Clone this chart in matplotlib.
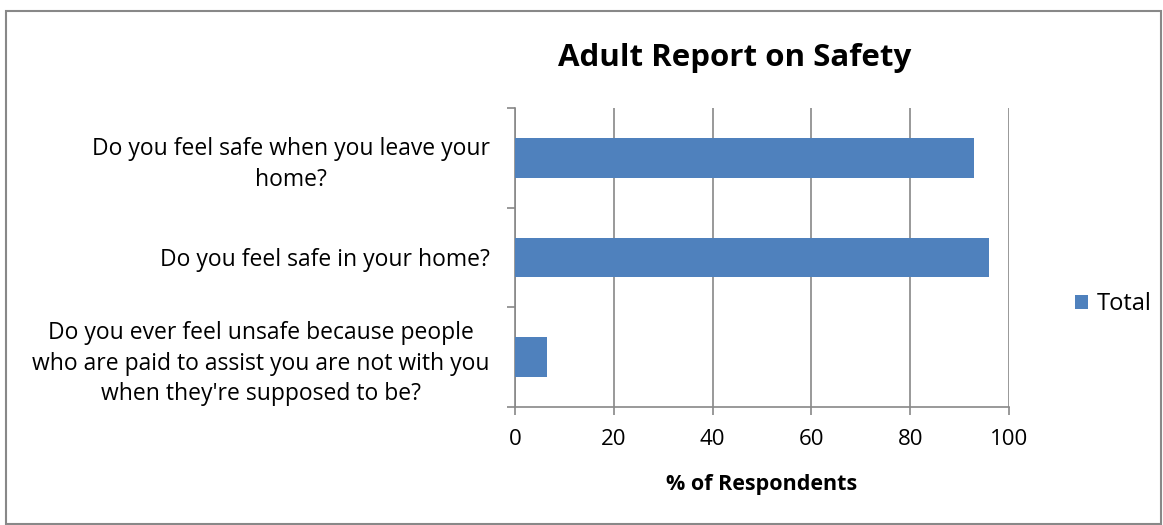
import matplotlib.pyplot as plt
from matplotlib.patches import Rectangle
from matplotlib.ticker import FixedLocator

plt.rcParams['font.family'] = ['Open Sans', 'DejaVu Sans']

questions = [
    "Do you feel safe when you leave your\nhome?",
    "Do you feel safe in your home?",
    "Do you ever feel unsafe because people\nwho are paid to assist you are not with you\nwhen they're supposed to be?",
]
totals = [93.0, 96.0, 6.4]
xticks = [0, 20, 40, 60, 80, 100]

bar_color = "#4F81BD"
axis_gray = "#888888"

fig = plt.figure(figsize=(11.63, 5.25), dpi=100)
ax = fig.add_axes([515 / 1163, 1 - 407 / 525, 494 / 1163, 299 / 525])

ypos = list(range(len(questions)))[::-1]
ax.barh(ypos, totals, height=0.4, color=bar_color, label="Total", zorder=3)

ax.set_xlim(0, 100)
ax.set_ylim(-0.5, len(questions) - 0.5)
ax.set_xticks(xticks)
ax.set_xticklabels([str(t) for t in xticks], fontsize=16)
ax.set_yticks(ypos)
ax.set_yticklabels(questions, fontsize=16.5, linespacing=1.38)
ax.yaxis.set_minor_locator(FixedLocator([-0.5, 0.5, 1.5, 2.5]))
ax.tick_params(axis='y', which='major', length=0, pad=18)
ax.tick_params(axis='y', which='minor', length=6, color=axis_gray, width=1.2)
ax.tick_params(axis='x', length=6, color=axis_gray, width=1.2, pad=10)
for lbl in ax.get_yticklabels():
    lbl.set_horizontalalignment('right')
    lbl.set_multialignment('center')

ax.grid(axis='x', color=axis_gray, linewidth=1.2, zorder=0)
for side in ('top', 'right'):
    ax.spines[side].set_visible(False)
for side in ('left', 'bottom'):
    ax.spines[side].set_color(axis_gray)
    ax.spines[side].set_linewidth(1.2)

ax.set_xlabel("% of Respondents", fontsize=15.5, fontweight='bold', labelpad=17)
fig.text(735 / 1163, 1 - 58 / 525, "Adult Report on Safety", fontsize=22.5,
         fontweight='bold', ha='center', va='center')

ax.legend(loc='center left', bbox_to_anchor=(1.09, 0.344), frameon=False,
          fontsize=17, handlelength=0.55, handleheight=0.55, handletextpad=0.4)

# outer chart frame
fig.patches.append(Rectangle((6 / 1163, 1 / 525), 1155 / 1163, 513 / 525,
                             transform=fig.transFigure, fill=False,
                             edgecolor=axis_gray, linewidth=1.5))

fig.savefig("out.png", dpi=100)
